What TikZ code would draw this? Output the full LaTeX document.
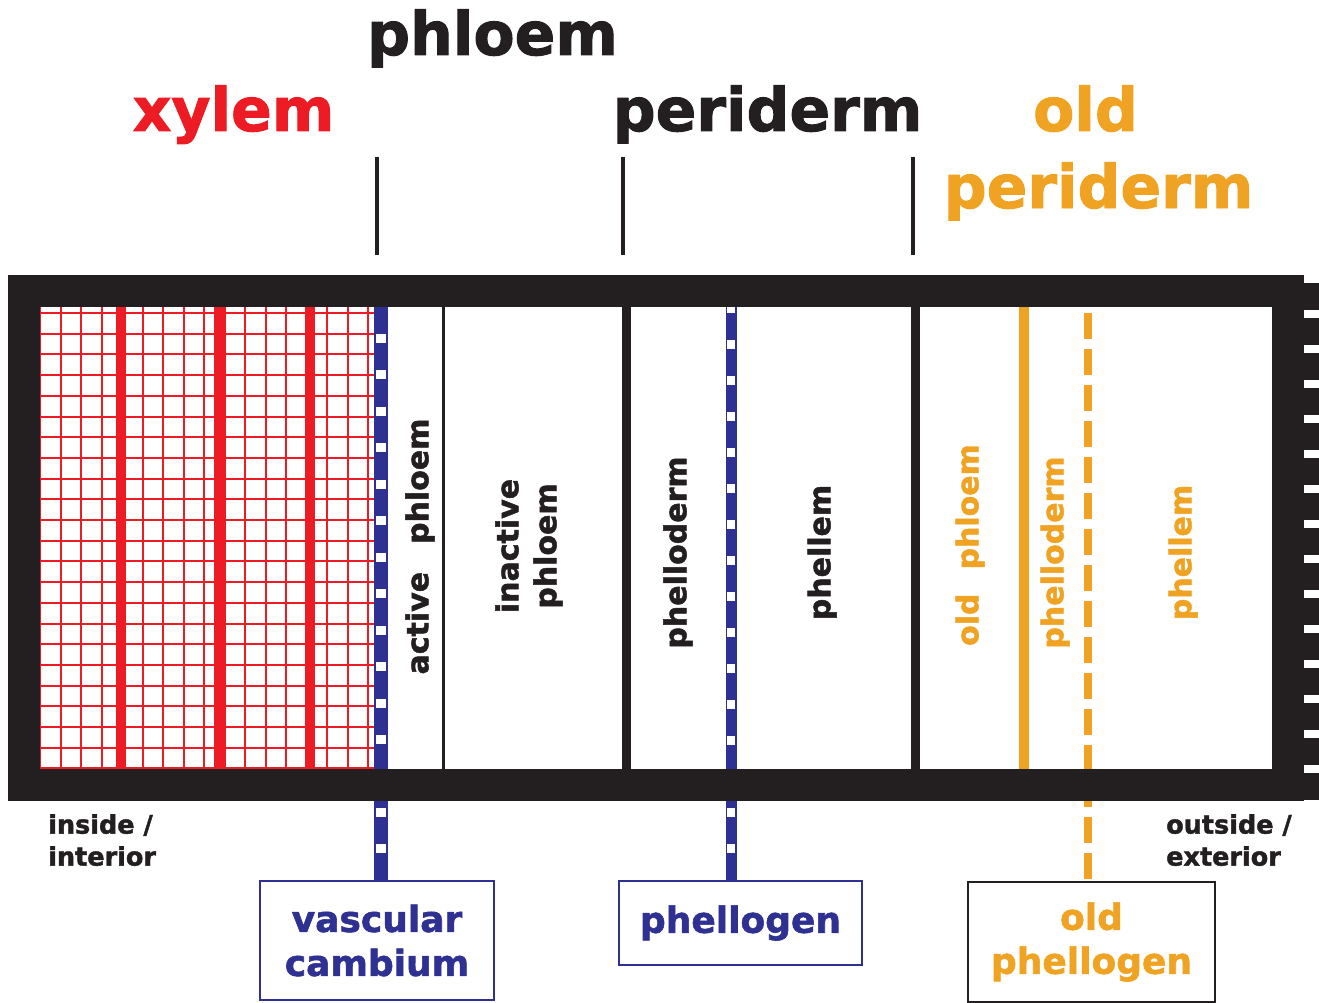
\documentclass[tikz,border=0pt]{standalone}
\usepackage{fontspec}
\setmainfont{DejaVu Sans}[BoldFeatures={FakeBold=1.6}]
\usetikzlibrary{positioning}

\definecolor{xred}{HTML}{ED1C24}
\definecolor{cblue}{HTML}{2E3192}
\definecolor{oorange}{HTML}{F0A323}
\definecolor{inkblk}{HTML}{231F20}

\begin{document}
\begin{tikzpicture}[x=1pt,y=-1pt,
title/.style={inner sep=0pt, anchor=base, font=\bfseries\fontsize{60}{78}\selectfont},
lbl/.style={inner sep=0pt, rotate=90, align=center, font=\bfseries\fontsize{30}{38}\selectfont},
tag/.style={draw, line width=2.5pt, inner sep=0pt, align=center, font=\bfseries\fontsize{36}{44}\selectfont},
side/.style={inner sep=0pt, align=left, anchor=north west, font=\bfseries\fontsize{25.5}{32}\selectfont},
tick/.style={inkblk, line width=4pt},
wall/.style={inkblk, line width=9pt},
meri/.style={cblue, line width=14pt},
gaps/.style={white, line width=10pt}
]
\useasboundingbox (0,0) rectangle (1319,1003);

% xylem grid
\begin{scope}
\clip (40,307) rectangle (375,770);
\foreach \i in {0,...,16}
  \draw[xred, line width=2pt] ({40+20.5*\i},307) -- ({40+20.5*\i},770);
\foreach \j in {-1,0,...,22}
  \draw[xred, line width=2pt] (40,{313+20.7*\j}) -- (375,{313+20.7*\j});
\end{scope}
\foreach \xx in {121,219,310}
  \draw[xred, line width=10pt] (\xx,307) -- (\xx,770);

% walls inside the bark
\draw[inkblk, line width=3pt] (443,307) -- (443,770);
\draw[wall] (626,307) -- (626,770);
\draw[wall] (915,307) -- (915,770);
\draw[oorange, line width=10pt] (1024,307) -- (1024,770);

% boxes below
\node[tag, cblue, minimum width=234pt, minimum height=119pt] (vc) at (377,940.5) {vascular\\cambium};
\node[tag, cblue, minimum width=243pt, minimum height=84pt] (pg) at (740.5,923) {phellogen};
\node[tag, inkblk, text=oorange, minimum width=247pt, minimum height=120pt] (opg) at (1091.5,942) {old\\phellogen};

\coordinate (camtop) at (381,307);
\coordinate (pgtop) at (731,307);
\coordinate (opgtop) at (1088,307);

% meristem lines
\draw[meri] (camtop) -- (vc.north -| camtop);
\draw[gaps, dash pattern=on 9pt off 27.46pt, dash phase=9.5pt] (camtop) -- (vc.north -| camtop);
\draw[cblue, line width=11pt] (pgtop) -- (pg.north -| pgtop);
\draw[white, line width=7.5pt, dash pattern=on 9pt off 27pt, dash phase=3pt] (pgtop) -- (pg.north -| pgtop);
\draw[oorange, line width=8pt, dash pattern=on 26pt off 10pt, dash phase=30pt] (opgtop) -- (opg.north -| opgtop);

% frame
\draw[inkblk, line width=32pt] (24,291) rectangle (1287.5,785);
\draw[inkblk, line width=16pt, dash pattern=on 27pt off 8pt] (1311,283) -- (1311,800);

% ticks
\draw[tick] (377,157) -- (377,255);
\draw[tick] (623,157) -- (623,255);
\draw[tick] (913,157) -- (913,255);

% titles
\node[title, inkblk] (phl) at (492.5,55) {phloem};
\node[title, xred] (xyl) at (233.5,131) {xylem};
\node[title, inkblk] (per) at (767.5,131) {periderm};
\node[title, oorange] (oldt) at (1085.5,131) {old};
\node[title, oorange] (oper) at (1098.5,208) {periderm};

% layers
\node[lbl, inkblk] (act) at (420,546.5) {active\hspace{28pt}phloem};
\node[lbl, inkblk] (inact) at (529,546) {inactive\\phloem};
\node[lbl, inkblk] (pd) at (678,552.5) {phelloderm};
\node[lbl, inkblk] (pm) at (822,552.5) {phellem};
\node[lbl, oorange] (oph) at (970,545) {old\hspace{24pt}phloem};
\node[lbl, oorange] (opd) at (1055,552.5) {phelloderm};
\node[lbl, oorange] (opm) at (1183,552.5) {phellem};

% sides
\node[side, inkblk] (ins) at (48,814) {inside /\\interior};
\node[side, inkblk] (outs) at (1166,814) {outside /\\exterior};
\end{tikzpicture}
\end{document}
